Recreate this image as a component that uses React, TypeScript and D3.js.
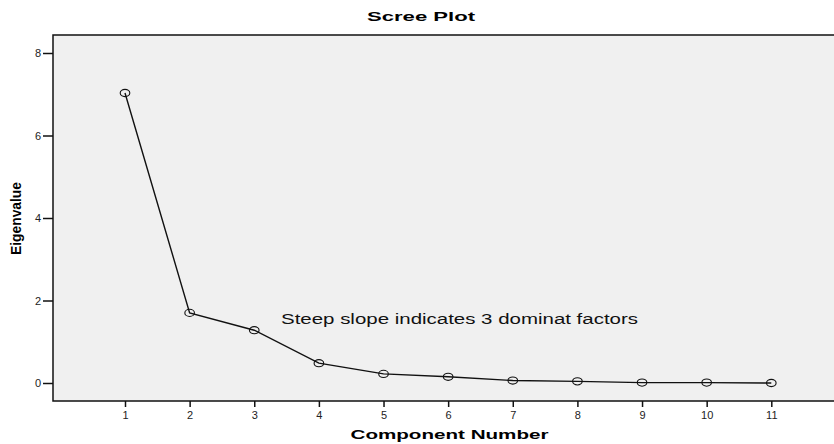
import { useEffect, useRef } from 'react';
import * as d3 from 'd3';

const components = [1, 2, 3, 4, 5, 6, 7, 8, 9, 10, 11];
const eigenvalues = [7.03, 1.7, 1.28, 0.48, 0.22, 0.15, 0.06, 0.04, 0.01, 0.01, 0.0];
const yTicks = [0, 2, 4, 6, 8];
const annotation = 'Steep slope indicates 3 dominat factors';

export default function App() {
  const svgRef = useRef<SVGSVGElement>(null);

  useEffect(() => {
    if (!svgRef.current) return;
    const el = svgRef.current;
    d3.select(el).selectAll('*').remove();

    const W = 834;
    const H = 444;
    const frame = { left: 53, top: 35, right: 842, bottom: 401 };
    const font = 'Liberation Sans, Arial, sans-serif';

    const svg = d3.select(el).attr('width', W).attr('height', H);

    const x = d3.scaleLinear().domain([1, 11]).range([125, 771.3]);
    const y = d3.scaleLinear().domain([0, 8]).range([383, 53]);

    // plot background
    svg.append('rect')
      .attr('x', frame.left).attr('y', frame.top)
      .attr('width', frame.right - frame.left)
      .attr('height', frame.bottom - frame.top)
      .attr('fill', '#f0f0f0')
      .attr('stroke', '#111')
      .attr('stroke-width', 1.5);

    // y axis
    const yAxis = svg.append('g')
      .attr('transform', `translate(${frame.left},0)`)
      .call(d3.axisLeft(y).tickValues(yTicks).tickSize(10).tickPadding(2).tickFormat(d3.format('d')));
    yAxis.select('.domain').remove();
    yAxis.selectAll('line').attr('stroke', '#111').attr('stroke-width', 1.5);
    yAxis.selectAll('text').attr('font-family', font).attr('font-size', 11).attr('fill', '#222');

    // x axis
    const xAxis = svg.append('g')
      .attr('transform', `translate(0,${frame.bottom})`)
      .call(d3.axisBottom(x).tickValues(components).tickSize(6).tickPadding(4).tickFormat(d3.format('d')));
    xAxis.select('.domain').remove();
    xAxis.selectAll('line').attr('stroke', '#111').attr('stroke-width', 1.5);
    xAxis.selectAll('text').attr('font-family', font).attr('font-size', 11).attr('fill', '#222');

    // line
    const line = d3.line<number>()
      .x((_, i) => x(components[i]))
      .y((d) => y(d));
    svg.append('path')
      .datum(eigenvalues)
      .attr('d', line)
      .attr('fill', 'none')
      .attr('stroke', '#111')
      .attr('stroke-width', 1.4);

    // markers
    svg.selectAll('.pt')
      .data(eigenvalues)
      .join('ellipse')
      .attr('class', 'pt')
      .attr('cx', (_, i) => x(components[i]))
      .attr('cy', (d) => y(d))
      .attr('rx', 4.8)
      .attr('ry', 3.6)
      .attr('fill', 'none')
      .attr('stroke', '#111')
      .attr('stroke-width', 1.1);

    // title
    svg.append('text')
      .attr('x', 421).attr('y', 20.5)
      .attr('text-anchor', 'middle')
      .attr('font-family', font).attr('font-size', 13.5).attr('font-weight', 'bold')
      .attr('textLength', 108).attr('lengthAdjust', 'spacingAndGlyphs')
      .text('Scree Plot');

    // axis labels
    svg.append('text')
      .attr('x', 449.5).attr('y', 439)
      .attr('text-anchor', 'middle')
      .attr('font-family', font).attr('font-size', 13.5).attr('font-weight', 'bold')
      .attr('textLength', 198).attr('lengthAdjust', 'spacingAndGlyphs')
      .text('Component Number');

    svg.append('text')
      .attr('transform', 'translate(21,218.5) rotate(-90)')
      .attr('text-anchor', 'middle')
      .attr('font-family', font).attr('font-size', 14.5).attr('font-weight', 'bold')
      .attr('textLength', 73).attr('lengthAdjust', 'spacingAndGlyphs')
      .text('Eigenvalue');

    // annotation
    svg.append('text')
      .attr('x', 281).attr('y', 324)
      .attr('font-family', font).attr('font-size', 15.5)
      .attr('fill', '#111')
      .attr('textLength', 357).attr('lengthAdjust', 'spacingAndGlyphs')
      .text(annotation);
  }, []);

  return (
    <div style={{ position: 'absolute', left: 0, top: 0, background: '#fff' }}>
      <svg ref={svgRef} width={834} height={444} style={{ display: 'block' }} />
    </div>
  );
}
